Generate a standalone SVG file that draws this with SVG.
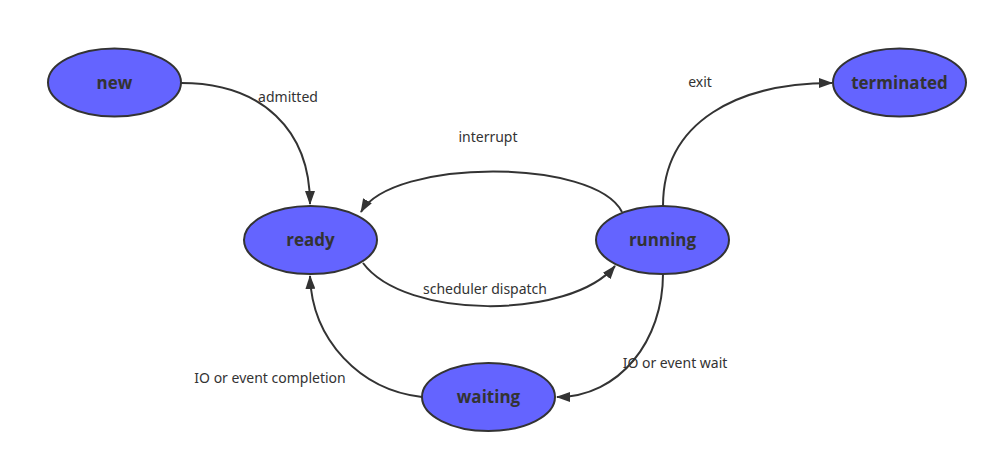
<svg xmlns="http://www.w3.org/2000/svg" width="998" height="463" viewBox="0 0 998 463">
<style>
.node ellipse{fill:#6464ff;stroke:#333;stroke-width:2}
.node text{font-family:"Open Sans","Noto Sans","DejaVu Sans",sans-serif;font-weight:bold;font-size:17px;fill:#333;text-anchor:middle}
.edge{fill:none;stroke:#333;stroke-width:2;marker-end:url(#arr)}
.lbl{font-family:"Noto Sans","Open Sans","DejaVu Sans",sans-serif;font-size:14px;fill:#333;text-anchor:middle}
</style>
<defs>
<marker id="arr" viewBox="0 0 14 10" refX="13" refY="5" markerWidth="14" markerHeight="10" markerUnits="userSpaceOnUse" orient="auto">
<path d="M0,0 L14,5 L0,10 Z" fill="#333"/>
</marker>
</defs>
<rect width="998" height="463" fill="#fff"/>
<g id="connectors">
<path class="edge" d="M181,83 C262,83 310,130 310,204"/>
<path class="edge" d="M622,212 C595,158 392,158 361,212"/>
<path class="edge" d="M363,263 C405,320 570,320 615,266"/>
<path class="edge" d="M663,206 C663,120 740,83 832,83"/>
<path class="edge" d="M663,274 C663,340 620,397 557,397"/>
<path class="edge" d="M422,397 C360,390 312,340 310,276"/>
<text class="lbl" x="288" y="102">admitted</text>
<text class="lbl" x="488" y="142">interrupt</text>
<text class="lbl" x="485" y="294">scheduler dispatch</text>
<text class="lbl" x="700" y="87">exit</text>
<text class="lbl" x="675" y="368">IO or event wait</text>
<text class="lbl" x="270" y="383">IO or event completion</text>
</g>
<g id="node-new" class="node"><ellipse cx="114.5" cy="82.5" rx="66.5" ry="34"/><text x="114.5" y="88.5">new</text></g>
<g id="node-ready" class="node"><ellipse cx="310.5" cy="240" rx="66.5" ry="34"/><text x="310.5" y="246">ready</text></g>
<g id="node-running" class="node"><ellipse cx="662.5" cy="240" rx="66.5" ry="34"/><text x="662.5" y="246">running</text></g>
<g id="node-terminated" class="node"><ellipse cx="899.5" cy="82.5" rx="66.5" ry="34"/><text x="899.5" y="88.5">terminated</text></g>
<g id="node-waiting" class="node"><ellipse cx="488.5" cy="397" rx="66.5" ry="34"/><text x="488.5" y="403">waiting</text></g>
</svg>
